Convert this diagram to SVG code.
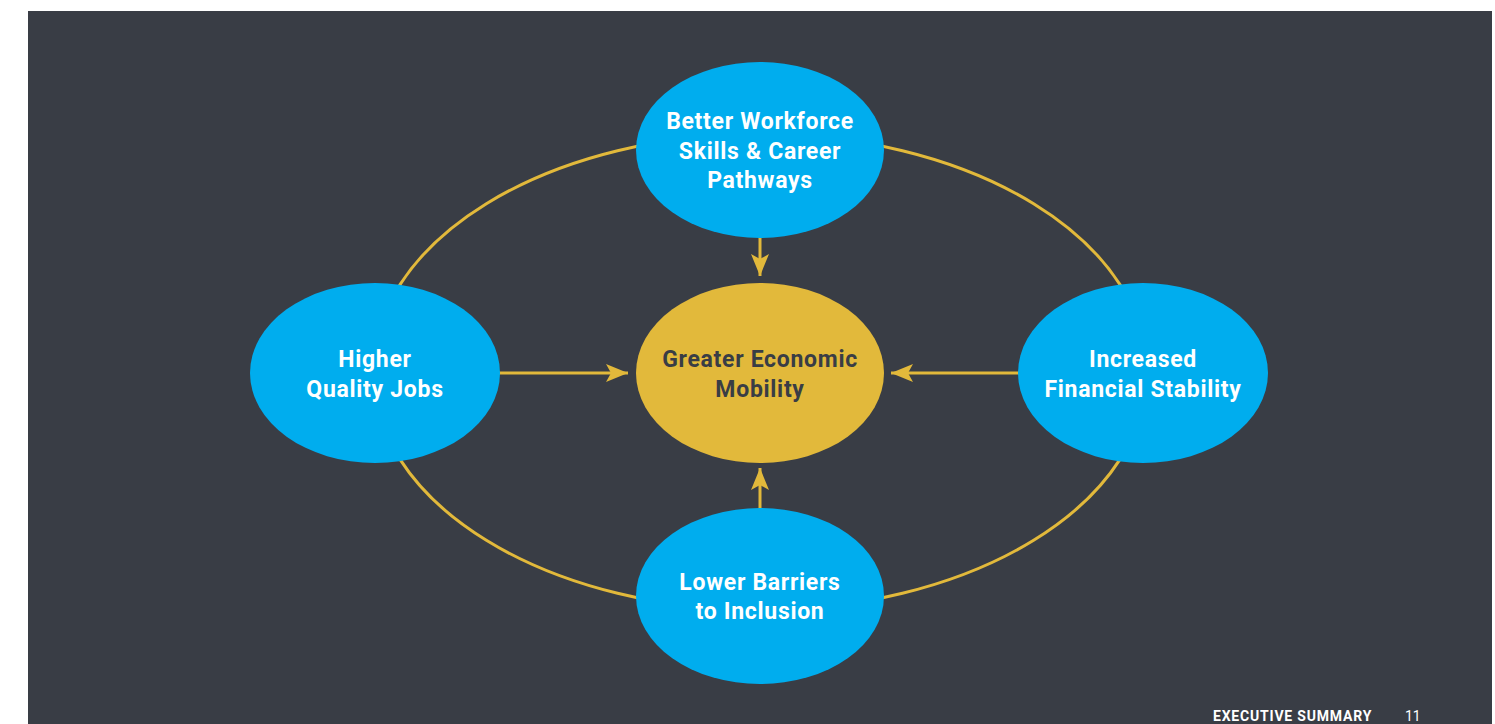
<svg xmlns="http://www.w3.org/2000/svg" width="1495" height="724" viewBox="0 0 1495 724">
  <style>
    .blue { fill: #00adee; }
    .gold { fill: #e2b93b; }
    .lbl { font-family: Roboto, "Liberation Sans", sans-serif; font-weight: 700; font-size: 23px; letter-spacing: 0.7px; text-anchor: middle; fill: #ffffff; }
    .lbl-dark { fill: #393d45; }
    .conn { stroke: #e2b93b; stroke-width: 3; fill: none; }
    .foot { font-family: Roboto, "Liberation Sans", sans-serif; font-size: 14px; fill: #ffffff; }
  </style>
  <defs>
    <marker id="head" markerUnits="userSpaceOnUse" markerWidth="22" markerHeight="18" viewBox="0 0 22 18" refX="22" refY="9" orient="auto">
      <path d="M0,0 L22,9 L0,18 L5,9 Z" fill="#e2b93b"/>
    </marker>
  </defs>

  <rect x="0" y="0" width="1495" height="724" fill="#ffffff"/>
  <rect x="28" y="11" width="1464" height="713" fill="#393d45"/>

  <g id="connectors">
    <ellipse class="conn" cx="760" cy="372" rx="387" ry="238"/>
    <line class="conn" x1="760" y1="236" x2="760" y2="276" marker-end="url(#head)"/>
    <line class="conn" x1="498" y1="373" x2="628" y2="373" marker-end="url(#head)"/>
    <line class="conn" x1="1020" y1="373" x2="891" y2="373" marker-end="url(#head)"/>
    <line class="conn" x1="760" y1="510" x2="760" y2="468" marker-end="url(#head)"/>
  </g>

  <g id="node-workforce">
    <ellipse class="blue" cx="760" cy="150" rx="124" ry="88"/>
    <text class="lbl" x="760" y="129">Better Workforce</text>
    <text class="lbl" x="760" y="158.5">Skills &amp; Career</text>
    <text class="lbl" x="760" y="188">Pathways</text>
  </g>

  <g id="node-mobility">
    <ellipse class="gold" cx="760" cy="373" rx="124" ry="90"/>
    <text class="lbl lbl-dark" x="760" y="367">Greater Economic</text>
    <text class="lbl lbl-dark" x="760" y="397">Mobility</text>
  </g>

  <g id="node-jobs">
    <ellipse class="blue" cx="375" cy="373" rx="125" ry="90"/>
    <text class="lbl" x="375" y="367">Higher</text>
    <text class="lbl" x="375" y="397">Quality Jobs</text>
  </g>

  <g id="node-stability">
    <ellipse class="blue" cx="1143" cy="373" rx="125" ry="90"/>
    <text class="lbl" x="1143" y="367">Increased</text>
    <text class="lbl" x="1143" y="397">Financial Stability</text>
  </g>

  <g id="node-inclusion">
    <ellipse class="blue" cx="760" cy="596" rx="124" ry="88"/>
    <text class="lbl" x="760" y="590">Lower Barriers</text>
    <text class="lbl" x="760" y="619">to Inclusion</text>
  </g>

  <g id="footer">
    <text class="foot" x="1213" y="721" font-weight="700" letter-spacing="0.8">EXECUTIVE SUMMARY</text>
    <text class="foot" x="1405" y="721">11</text>
  </g>
</svg>
